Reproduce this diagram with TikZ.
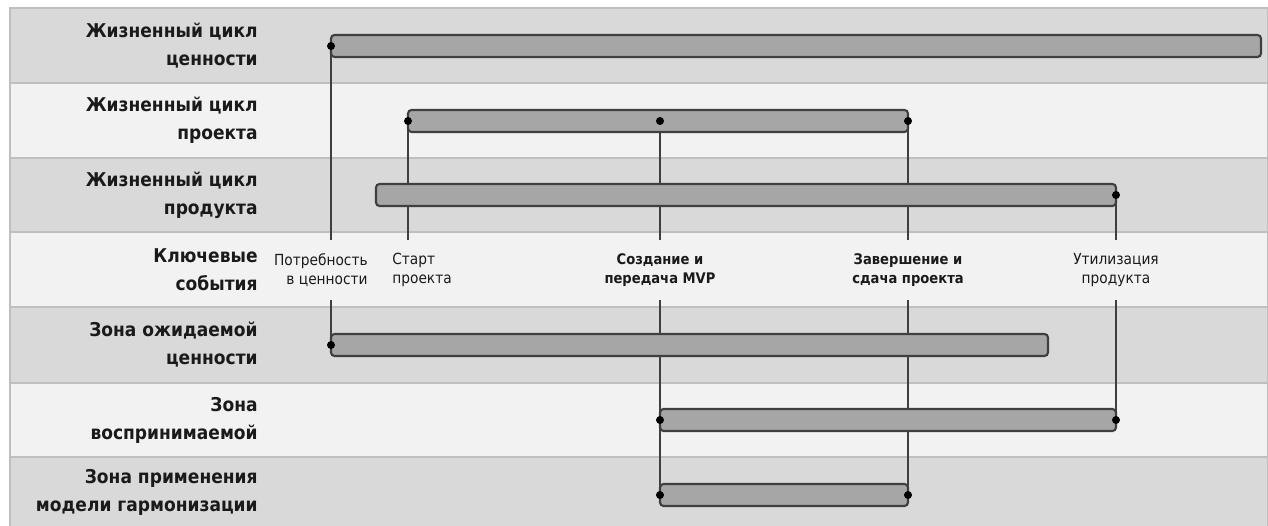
\documentclass[tikz,border=0pt]{standalone}
\usepackage{fontspec}
\setmainfont{DejaVu Sans}[FakeStretch=0.9]
\usetikzlibrary{fit}
\definecolor{banddark}{HTML}{D9D9D9}
\definecolor{bandlight}{HTML}{F2F2F2}
\definecolor{bandline}{HTML}{BFBFBF}
\definecolor{barfill}{HTML}{A6A6A6}
\definecolor{barline}{HTML}{3F3F3F}
\definecolor{txt}{HTML}{1A1A1A}
\tikzset{
  band/.style={draw=bandline, line width=0.7pt},
  rowlabel/.style={anchor=east, align=right, font=\fontsize{10.8}{15.9}\selectfont\bfseries, text=txt, inner sep=0pt},
  evlabel/.style={font=\fontsize{8.7}{10.8}\selectfont, text=txt, inner sep=0pt},
  evbold/.style={font=\fontsize{8.3}{10.8}\selectfont\bfseries, text=txt, inner sep=0pt, align=center},
  bar/.style={draw=barline, fill=barfill, line width=1.2pt, rounded corners=2pt, inner sep=0pt},
  dot/.style={circle, inner sep=0pt, minimum size=0.16cm},
  vline/.style={draw=barline, line width=0.8pt},
}
\begin{document}
\begin{tikzpicture}[x=0.02cm,y=-0.02cm]
\useasboundingbox (0,0) rectangle (1268,526);
\fill[white] (0,0) rectangle (1268,526);
% bands
\filldraw[band, fill=banddark]  (10,8)   rectangle (1268,83);
\filldraw[band, fill=bandlight] (10,83)  rectangle (1268,158);
\filldraw[band, fill=banddark]  (10,158) rectangle (1268,232);
\filldraw[band, fill=bandlight] (10,232) rectangle (1268,307);
\filldraw[band, fill=banddark]  (10,307) rectangle (1268,383);
\filldraw[band, fill=bandlight] (10,383) rectangle (1268,457);
\filldraw[band, fill=banddark]  (10,457) rectangle (1268,530);
% row labels
\node[rowlabel] (l1) at (258,45.5) {Жизненный цикл\\ценности};
\node[rowlabel] (l2) at (258,120.5) {Жизненный цикл\\проекта};
\node[rowlabel] (l3) at (258,195) {Жизненный цикл\\продукта};
\node[rowlabel] (l4) at (258,269.5) {Ключевые\\события};
\node[rowlabel] (l5) at (258,345) {Зона ожидаемой\\ценности};
\node[rowlabel] (l6) at (258,420) {Зона\\воспринимаемой};
\node[rowlabel] (l7) at (258,492) {Зона применения\\модели гармонизации};
% event labels
\node[evlabel, anchor=east, align=right] (e1) at (368,270) {Потребность\\в ценности};
\node[evlabel, anchor=west, align=left] (e2) at (392,270) {Старт\\проекта};
\node[evbold] (e3) at (660,270) {Создание и\\передача MVP};
\node[evbold] (e4) at (908,270) {Завершение и\\сдача проекта};
\node[evlabel, align=center] (e5) at (1116,270) {Утилизация\\продукта};
% dots
\node[dot] (d1) at (331,46) {};
\node[dot] (d2a) at (408,121) {};
\node[dot] (d2b) at (660,121) {};
\node[dot] (d2c) at (908,121) {};
\node[dot] (d3) at (1116,195) {};
\node[dot] (d5) at (331,345) {};
\node[dot] (d6a) at (660,420) {};
\node[dot] (d6b) at (1116,420) {};
\node[dot] (d7a) at (660,495) {};
\node[dot] (d7b) at (908,495) {};
% gap coordinates
\coordinate (t1) at (331,240); \coordinate (u1) at (331,300);
\coordinate (t2) at (408,240);
\coordinate (t3) at (660,240); \coordinate (u3) at (660,300);
\coordinate (t4) at (908,240); \coordinate (u4) at (908,300);
\coordinate (t5) at (1116,240); \coordinate (u5) at (1116,300);
% vertical lines
\draw[vline] (d1.center) -- (t1);
\draw[vline] (u1) -- (d5.center);
\draw[vline] (d2a.center) -- (t2);
\draw[vline] (d2b.center) -- (t3);
\draw[vline] (u3) -- (d7a.center);
\draw[vline] (d2c.center) -- (t4);
\draw[vline] (u4) -- (d7b.center);
\draw[vline] (d3.center) -- (t5);
\draw[vline] (u5) -- (d6b.center);
% bars
\node[bar, fit={(331,35)(1261,57)}] (b1) {};
\node[bar, fit={(408,110)(908,132)}] (b2) {};
\node[bar, fit={(376,184)(1116,206)}] (b3) {};
\node[bar, fit={(331,334)(1048,356)}] (b5) {};
\node[bar, fit={(660,409)(1116,431)}] (b6) {};
\node[bar, fit={(660,484)(908,506)}] (b7) {};
% dots on top
\foreach \d in {d1,d2a,d2b,d2c,d3,d5,d6a,d6b,d7a,d7b} \fill (\d) circle (4);
\end{tikzpicture}
\end{document}
